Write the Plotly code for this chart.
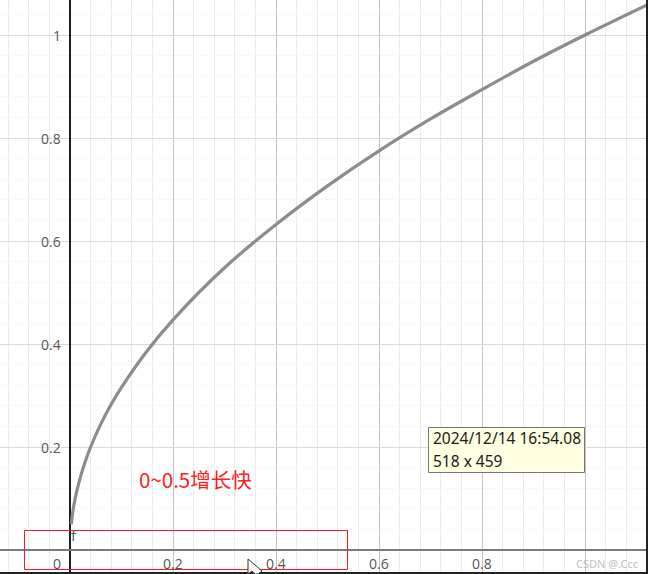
import plotly.graph_objects as go

W, H = 648, 574

# curve points (f)
curve_x = [0.0025, 0.005, 0.01, 0.02, 0.03, 0.04, 0.06, 0.08, 0.1, 0.15, 0.2, 0.3, 0.4, 0.5, 0.6, 0.7, 0.8, 0.9, 1.0, 1.13]
curve_y = [0.05, 0.071, 0.10, 0.141, 0.173, 0.20, 0.245, 0.283, 0.316, 0.387, 0.447, 0.548, 0.632, 0.707, 0.775, 0.837, 0.894, 0.949, 1.0, 1.063]

x_tick_vals = [0, 0.2, 0.4, 0.6, 0.8]
x_tick_text = ["0", "0.2", "0.4", "0.6", "0.8"]
y_tick_vals = [0.2, 0.4, 0.6, 0.8, 1]
y_tick_text = ["0.2", "0.4", "0.6", "0.8", "1"]

note_text = "0~0.5增长快"
tip_lines = ["2024/12/14 16:54.08", "518 x 459"]
watermark = "CSDN @.Ccc"

# pixel mapping: x=0 at px 70, y=0 at px 550, 515 px per unit
X0PX, Y0PX, PPU = 70, 550, 515
x_range = [-X0PX / PPU, (W - X0PX) / PPU]
y_range = [-(H - Y0PX) / PPU, Y0PX / PPU]

def px(x):
    return x / W

def py(y):
    return 1 - y / H

fig = go.Figure()
fig.add_trace(go.Scatter(
    x=curve_x, y=curve_y, mode="lines",
    line=dict(color="#8c8c8c", width=3.2, shape="spline"),
    hoverinfo="skip", showlegend=False,
))

fig.update_xaxes(
    range=x_range, showticklabels=False, ticks="",
    dtick=0.2, tick0=0, showgrid=True, gridcolor="#c4c4c4", gridwidth=1,
    minor=dict(dtick=0.04, tick0=0, showgrid=True, gridcolor="#ebebeb", gridwidth=1),
    zeroline=True, zerolinecolor="#1e1e1e", zerolinewidth=1.5,
    showline=False, fixedrange=True,
)
fig.update_yaxes(
    range=y_range, showticklabels=False, ticks="",
    dtick=0.2, tick0=0, showgrid=True, gridcolor="#dadada", gridwidth=1,
    minor=dict(dtick=0.04, tick0=0, showgrid=True, gridcolor="#f8f8f8", gridwidth=1),
    zeroline=True, zerolinecolor="#7a7a7a", zerolinewidth=2,
    showline=False, fixedrange=True,
)

ann = []
tick_font = dict(family="Open Sans, Noto Sans, sans-serif", size=14, color="#555555")
for v, t in zip(y_tick_vals, y_tick_text):
    ann.append(dict(x=0, y=v, xref="x", yref="y", text=t, showarrow=False,
                    xanchor="right", yanchor="middle", xshift=-7, font=tick_font))
for v, t in zip(x_tick_vals, x_tick_text):
    if v == 0:
        ann.append(dict(x=v, y=0, xref="x", yref="y", text=t, showarrow=False,
                        xanchor="right", yanchor="middle", xshift=-7, yshift=-13, font=tick_font))
    else:
        ann.append(dict(x=v, y=0, xref="x", yref="y", text=t, showarrow=False,
                        xanchor="center", yanchor="middle", yshift=-13, font=tick_font))

# f label
ann.append(dict(x=px(74), y=py(535), xref="paper", yref="paper", text="f", showarrow=False,
                xanchor="center", yanchor="middle",
                font=dict(family="Open Sans, sans-serif", size=15, color="#555555")))

# red note
ann.append(dict(x=px(195), y=py(479), xref="paper", yref="paper", text=note_text, showarrow=False,
                xanchor="center", yanchor="middle",
                font=dict(family="Noto Sans CJK SC, sans-serif", size=20.5, color="#ff2020")))

# tooltip text
tip_font = dict(family="Noto Sans, DejaVu Sans, sans-serif", size=15.5, color="#1a1a1a")
ann.append(dict(x=px(431), y=py(438), xref="paper", yref="paper", text=tip_lines[0], showarrow=False,
                xanchor="left", yanchor="middle", font=tip_font))
ann.append(dict(x=px(431), y=py(461), xref="paper", yref="paper", text=tip_lines[1], showarrow=False,
                xanchor="left", yanchor="middle", font=tip_font))

# watermark
ann.append(dict(x=px(640), y=py(563), xref="paper", yref="paper", text=watermark, showarrow=False,
                xanchor="right", yanchor="middle",
                font=dict(family="Noto Sans, sans-serif", size=11, color="#c0c0c0")))

shapes = [
    # tooltip box
    dict(type="rect", xref="paper", yref="paper", x0=px(428.5), x1=px(584.5), y0=py(427.5), y1=py(472.5),
         fillcolor="#ffffe1", line=dict(color="#767676", width=1), layer="above"),
    # red highlight rectangle
    dict(type="rect", xref="paper", yref="paper", x0=px(24.5), x1=px(347.5), y0=py(530.5), y1=py(569.5),
         line=dict(color="#ff1a1a", width=1), fillcolor="rgba(0,0,0,0)", layer="above"),
    # screenshot borders
    dict(type="line", xref="paper", yref="paper", x0=px(647), x1=px(647), y0=0, y1=1,
         line=dict(color="#222222", width=2), layer="above"),
    dict(type="line", xref="paper", yref="paper", x0=0, x1=1, y0=py(573), y1=py(573),
         line=dict(color="#222222", width=2), layer="above"),
    # mouse pointer outline
    dict(type="path", xref="paper", yref="paper",
         path="M {} {} L {} {} L {} {} L {} {} L {} {} L {} {} Z".format(
             px(248), py(559), px(248), py(574), px(252), py(571),
             px(255), py(574), px(258), py(574), px(262), py(571)),
         line=dict(color="#333333", width=1), fillcolor="#ffffff", layer="above"),
]

fig.update_layout(
    width=W, height=H,
    margin=dict(l=0, r=0, t=0, b=0),
    paper_bgcolor="#ffffff", plot_bgcolor="#ffffff",
    showlegend=False,
    annotations=ann, shapes=shapes,
)

fig.write_html("out.html", config={"displayModeBar": False},
               post_script="document.body.style.margin='0';document.body.style.overflow='hidden';")
